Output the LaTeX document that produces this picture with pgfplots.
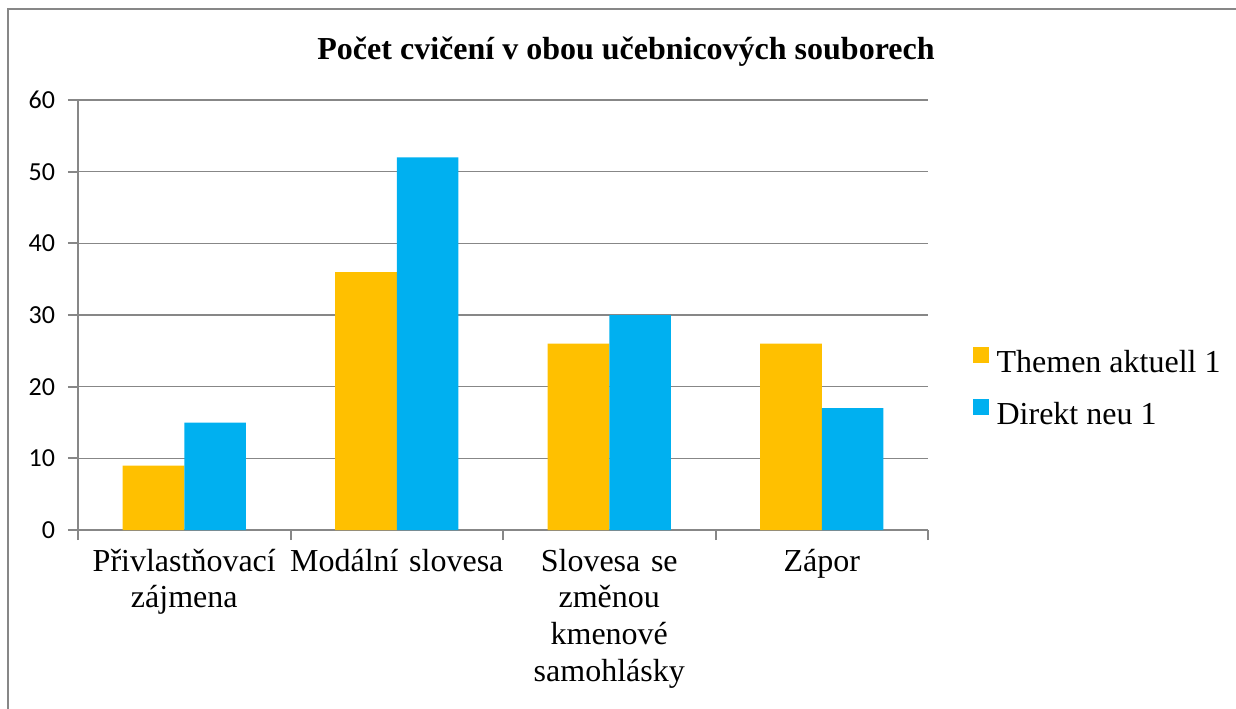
\documentclass[border=0pt]{standalone}
\usepackage{pgfplots}
\pgfplotsset{compat=1.18}
\usepackage{fontspec}
\setmainfont{Liberation Serif}
\newfontfamily\carlito{Carlito}
\definecolor{ornge}{HTML}{FFC000}
\definecolor{blu}{HTML}{00B0F0}
\definecolor{gridgray}{HTML}{878787}
\begin{document}
\begin{tikzpicture}
\useasboundingbox (-39pt,-89pt) rectangle (579pt,265pt);
\draw[gridgray, line width=1pt] (-35pt,-120pt) -- (-35pt,260.5pt) -- (620pt,260.5pt);
\node[anchor=base, font=\fontsize{16}{19}\selectfont\bfseries] at (274pt,235.5pt) {Počet cvičení v obou učebnicových souborech};
\begin{axis}[
  at={(0,0)}, anchor=south west,
  scale only axis, width=425pt, height=215pt,
  ybar=0pt, bar width=0.29,
  xmin=-0.5, xmax=3.5, ymin=0, ymax=60,
  ytick={0,10,...,60},
  xtick={-0.5,0.5,1.5,2.5,3.5}, xticklabels={},
  extra x ticks={0,1,2,3},
  extra x tick labels={Přivlastňovací zájmena, Modální slovesa, Slovesa se změnou kmenové samohlásky, Zápor},
  extra x tick style={major tick length=0pt, grid=none,
     tick label style={font=\fontsize{16}{18.3}\selectfont, align=center, text width=108pt, yshift=-6pt}},
  axis lines*=left,
  axis line style={draw=gridgray, line width=1pt, -},
  tick style={draw=gridgray, line width=1pt},
  major tick length=5pt,
  tick align=outside,
  ymajorgrids, grid style={draw=gridgray, line width=0.8pt},
  /pgf/number format/assume math mode=true,
  y tick label style={font=\carlito\fontsize{13}{13}\selectfont, xshift=-3pt},
  legend style={at={(1.052,0.328)}, anchor=west, draw=none, fill=none, inner sep=0pt,
     font=\fontsize{16}{16}\selectfont, row sep=9pt, legend cell align=left,
     /tikz/every odd column/.append style={column sep=2pt}},
  legend image code/.code={\fill[#1] (0pt,0pt) rectangle (8pt,8pt);},
]
\addplot[draw=none, fill=ornge] coordinates {(0,9) (1,36) (2,26) (3,26)};
\addplot[draw=none, fill=blu] coordinates {(0,15) (1,52) (2,30) (3,17)};
\legend{Themen aktuell 1, Direkt neu 1}
\end{axis}
\end{tikzpicture}
\end{document}
